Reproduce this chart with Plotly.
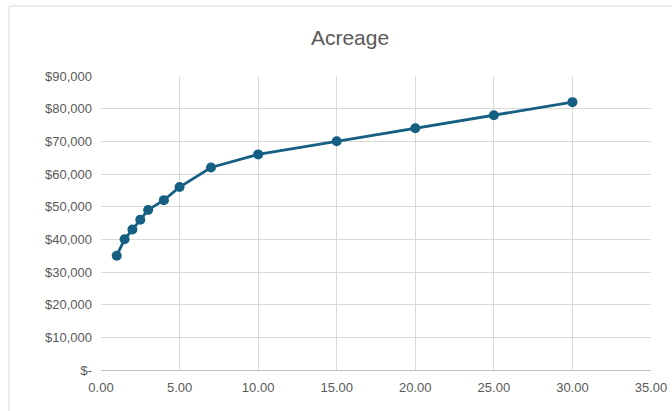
import plotly.graph_objects as go

acres = [1, 1.5, 2, 2.5, 3, 4, 5, 7, 10, 15, 20, 25, 30]
price = [35000, 40000, 43000, 46000, 49000, 52000, 56000, 62000, 66000, 70000, 74000, 78000, 82000]
x_ticks = [0, 5, 10, 15, 20, 25, 30, 35]
x_ticklabels = ["0.00", "5.00", "10.00", "15.00", "20.00", "25.00", "30.00", "35.00"]
y_ticks = [0, 10000, 20000, 30000, 40000, 50000, 60000, 70000, 80000, 90000]
y_ticklabels = ["$-", "$10,000", "$20,000", "$30,000", "$40,000", "$50,000",
                "$60,000", "$70,000", "$80,000", "$90,000"]

color = "#156082"
font = "Liberation Sans"

fig = go.Figure()
fig.add_trace(go.Scatter(
    x=acres, y=price, mode="lines+markers",
    line=dict(color=color, width=2.8),
    marker=dict(color=color, size=10),
    showlegend=False,
))

L, R, T, B = 101, 21, 76, 41
W, H = 672, 411
pw, ph = W - L - R, H - T - B

fig.update_layout(
    width=W, height=H,
    margin=dict(l=L, r=R, t=T, b=B, autoexpand=False),
    paper_bgcolor="white", plot_bgcolor="white",
    title=dict(text="Acreage", x=350 / W, xanchor="center", y=1 - 38 / H, yanchor="middle",
               font=dict(family=font, size=21, color="#595959")),
    font=dict(family=font, color="#595959", size=12),
    xaxis=dict(range=[0, 35], tickvals=x_ticks, ticktext=x_ticklabels, automargin=False,
               showgrid=True, gridcolor="#d9d9d9", gridwidth=1,
               zeroline=False, showline=True, linecolor="#bfbfbf", linewidth=1,
               ticks="", ticklabelstandoff=5, tickfont=dict(size=13, color="#595959")),
    yaxis=dict(range=[0, 90000], tickvals=y_ticks, ticktext=y_ticklabels, automargin=False,
               showgrid=True, gridcolor="#d9d9d9", gridwidth=1,
               zeroline=False, showline=False, ticks="", ticklabelstandoff=8,
               tickfont=dict(size=13, color="#595959")),
    shapes=[dict(type="rect", xref="paper", yref="paper",
                 x0=(9 - L) / pw, x1=(W + 10 - L) / pw,
                 y0=(H - B - (H + 10)) / ph, y1=(H - B - 6) / ph,
                 line=dict(color="#d9d9d9", width=1), fillcolor="rgba(0,0,0,0)", layer="below")],
)

fig.write_html("out.html", config={"displayModeBar": False},
               post_script="document.body.style.margin='0';document.body.style.overflow='hidden';")
